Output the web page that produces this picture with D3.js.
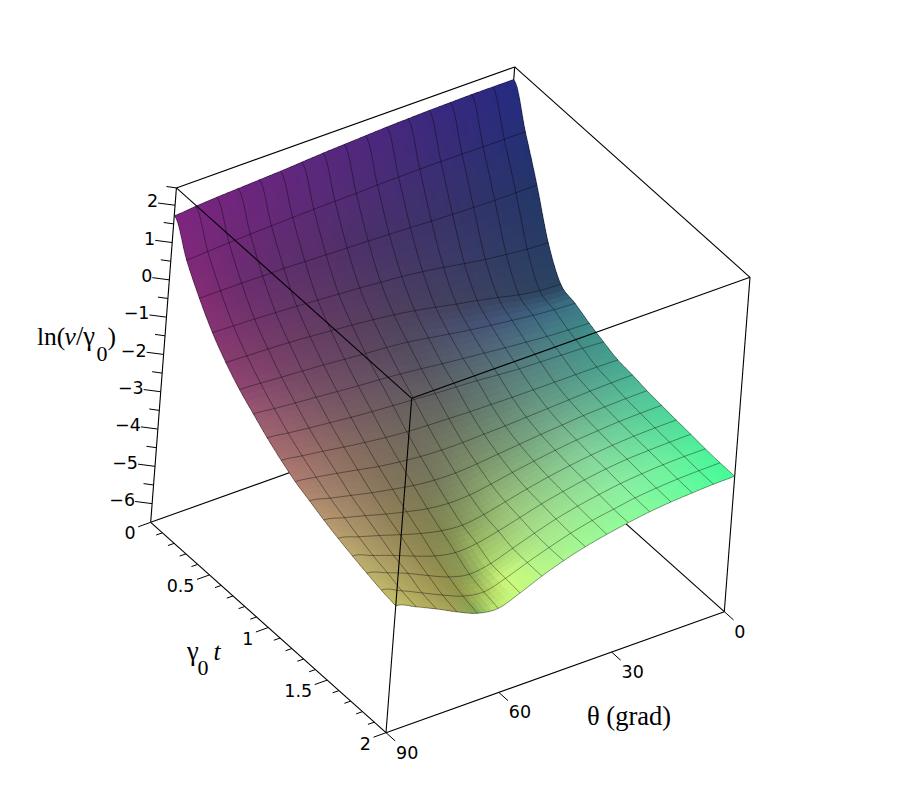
<!DOCTYPE html>
<html><head><meta charset="utf-8">
<style>html,body{margin:0;background:#fff}svg{display:block}</style>
<script src="https://cdn.jsdelivr.net/npm/d3@7/dist/d3.min.js"></script>
</head><body><svg id="c" width="900" height="800"></svg>
<script>
// ---- data ----
const tValues = [0,0.125,0.25,0.375,0.5,0.625,0.75,0.875,1,1.125,1.25,1.375,1.5,1.625,1.75,1.875,2];
const thetaValues = [90,84.375,78.75,73.125,67.5,61.875,56.25,50.625,45,39.375,33.75,28.125,22.5,16.875,11.25,5.625,0];
// ln(v/gamma0): one row per t, columns follow thetaValues
const lnRows = [
[1.72,1.77,1.81,1.84,1.87,1.90,1.94,1.98,2.01,2.04,2.07,2.09,2.11,2.12,2.13,2.13,2.13],
[0.88,0.91,0.94,0.97,0.99,1.01,1.03,1.04,1.05,1.07,1.08,1.09,1.09,1.09,1.08,1.08,1.08],
[0.21,0.21,0.21,0.20,0.20,0.18,0.16,0.14,0.12,0.10,0.08,0.05,0.03,0.01,0.00,0.00,0.00],
[-0.36,-0.38,-0.40,-0.43,-0.46,-0.50,-0.54,-0.58,-0.63,-0.68,-0.75,-0.84,-0.94,-1.03,-1.10,-1.16,-1.19],
[-0.81,-0.83,-0.85,-0.88,-0.92,-0.97,-1.02,-1.08,-1.15,-1.24,-1.35,-1.47,-1.58,-1.70,-1.83,-1.92,-1.95],
[-1.18,-1.21,-1.25,-1.29,-1.33,-1.38,-1.43,-1.47,-1.53,-1.62,-1.72,-1.81,-1.89,-1.96,-2.03,-2.08,-2.11],
[-1.48,-1.54,-1.59,-1.64,-1.69,-1.74,-1.78,-1.83,-1.89,-1.96,-2.02,-2.08,-2.14,-2.19,-2.24,-2.27,-2.29],
[-1.77,-1.84,-1.91,-1.97,-2.03,-2.08,-2.12,-2.16,-2.20,-2.23,-2.26,-2.31,-2.35,-2.37,-2.39,-2.41,-2.44],
[-2.02,-2.10,-2.18,-2.27,-2.35,-2.42,-2.47,-2.50,-2.52,-2.54,-2.55,-2.56,-2.56,-2.56,-2.56,-2.56,-2.57],
[-2.24,-2.32,-2.42,-2.53,-2.64,-2.72,-2.78,-2.81,-2.81,-2.79,-2.77,-2.74,-2.71,-2.68,-2.65,-2.63,-2.62],
[-2.40,-2.53,-2.66,-2.79,-2.90,-3.00,-3.06,-3.07,-3.03,-2.97,-2.91,-2.85,-2.80,-2.75,-2.72,-2.70,-2.69],
[-2.56,-2.70,-2.85,-3.01,-3.15,-3.27,-3.33,-3.31,-3.22,-3.11,-3.01,-2.92,-2.85,-2.80,-2.76,-2.74,-2.73],
[-2.70,-2.86,-3.03,-3.21,-3.38,-3.51,-3.56,-3.48,-3.34,-3.20,-3.08,-2.98,-2.90,-2.84,-2.80,-2.78,-2.77],
[-2.82,-3.01,-3.21,-3.43,-3.63,-3.74,-3.70,-3.57,-3.41,-3.25,-3.12,-3.01,-2.92,-2.86,-2.83,-2.81,-2.80],
[-2.93,-3.12,-3.34,-3.60,-3.84,-3.97,-3.88,-3.68,-3.48,-3.30,-3.16,-3.05,-2.96,-2.90,-2.86,-2.84,-2.84],
[-3.03,-3.25,-3.51,-3.77,-4.00,-4.09,-3.93,-3.71,-3.51,-3.33,-3.19,-3.09,-2.99,-2.93,-2.89,-2.87,-2.86],
[-3.10,-3.33,-3.59,-3.87,-4.11,-4.18,-3.97,-3.72,-3.51,-3.34,-3.21,-3.10,-3.01,-2.95,-2.91,-2.88,-2.87]
];
const zTicks = [2,1,0,-1,-2,-3,-4,-5,-6];
const zMinorTicks = [1.5,0.5,-0.5,-1.5,-2.5,-3.5,-4.5,-5.5];
const tTicks = [0,0.5,1,1.5,2];
const tMinorTicks = [0.1,0.2,0.3,0.4,0.6,0.7,0.8,0.9,1.1,1.2,1.3,1.4,1.6,1.7,1.8,1.9];
const thetaTicks = [0,30,60,90];
// surface colour table: rows / columns are indices of tValues / thetaValues
const shadeRowIdx = [0,2,4,5,6,8,10,12,14,15,16];
const shadeColIdx = [0,2,3,4,5,6,8,12,14,16];
const shadeRows = [
["#7d2480","#74247f","#6f2480","#6a2580","#652580","#5f2680","#552680","#3d2780","#312882","#252a85"],
["#842c74","#6c2c70","#652d6e","#5f2e6c","#5a2f6b","#552f6a","#4a316a","#37336a","#2d346a","#233568"],
["#8a3c70","#763c68","#6f3d66","#683d64","#623e62","#5c3e60","#4f405e","#3c4260","#334360","#2a4460"],
["#904670","#7c4668","#744666","#6c4664","#664662","#604660","#524a60","#46567a","#3e6482","#3c7488"],
["#9a5870","#83546a","#7a5366","#725264","#6b5262","#655262","#585462","#4f6c7c","#487c84","#3c8a88"],
["#a8706f","#936c66","#8a6a62","#806860","#78685e","#70685e","#686e62","#5f8e80","#54988a","#45a38f"],
["#b38a70","#9a8066","#8e7a5e","#84765a","#7c7658","#76795c","#7d9169","#74b08c","#62ba94","#50c39a"],
["#b9a26e","#a08e62","#948656","#8a8452","#828650","#86985a","#96be78","#84d49c","#6ad89c","#4fdb9a"],
["#bdb06c","#a89c5e","#9c9454","#90904e","#8ca055","#aed76c","#a8e088","#8aeca0","#70f09e","#4ff09a"],
["#c0b86a","#aca25c","#a09a54","#92984c","#a8c45c","#cdfa7d","#aaee8c","#88f4a0","#6cf69e","#4af69a"],
["#c2c068","#b0aa5c","#a4a256","#82aa55","#c0f073","#c8fa7c","#acf890","#84fc9c","#64fc9c","#44fc96"]
];

// ---- oblique box projection ----
const fT = d3.scaleLinear().domain([0,2]).range([0,1]);
const fTh = d3.scaleLinear().domain([90,0]).range([0,1]);
const fZ = d3.scaleLinear().domain([-6.5,2.465]).range([0,1]);
const ORIGIN=[150.7,522.3], VT=[235.3,210.4], VTH=[338.3,-121], VZ=[25.7,-334.4];
function P(t,th,z){
  const a=fT(t),b=fTh(th),c=fZ(z);
  return [ORIGIN[0]+a*VT[0]+b*VTH[0]+c*VZ[0], ORIGIN[1]+a*VT[1]+b*VTH[1]+c*VZ[1]];
}
const svg=d3.select("#c");
const line=d3.line();
function seg(g,a,b,w,col){g.append("path").attr("d",line([a,b])).attr("fill","none").attr("stroke",col||"#000").attr("stroke-width",w);}
const Z0=-6.5,Z1=2.465;

// back / hidden edges go first
const back=svg.append("g");
seg(back,P(0,90,Z0),P(0,0,Z0),1.1);
seg(back,P(2,0,Z0),P(0,0,Z0),1.1);
seg(back,P(0,0,Z0),P(0,0,Z1),1.1);
seg(back,P(0,90,Z1),P(0,0,Z1),1.1);
seg(back,P(0,0,Z1),P(2,0,Z1),1.1);
seg(back,P(0,90,Z0),P(0,90,Z1),1.1);
seg(back,P(2,0,Z0),P(2,0,Z1),1.1);

// surface
const rowS=d3.scaleLinear().domain(shadeRowIdx).range(d3.range(shadeRowIdx.length));
const colS=d3.scaleLinear().domain(shadeColIdx).range(d3.range(shadeColIdx.length));
const shadeRgb=shadeRows.map(r=>r.map(c=>d3.rgb(c)));
function shade(i,j){
  const r=rowS(i),c=colS(j);
  const r0=Math.min(Math.floor(r),shadeRgb.length-2),c0=Math.min(Math.floor(c),shadeRgb[0].length-2);
  const u=r-r0,v=c-c0;
  const A=shadeRgb[r0][c0],B=shadeRgb[r0][c0+1],C=shadeRgb[r0+1][c0],D=shadeRgb[r0+1][c0+1];
  const f=k=>(A[k]*(1-u)*(1-v)+B[k]*(1-u)*v+C[k]*u*(1-v)+D[k]*u*v);
  return d3.rgb(f("r"),f("g"),f("b")).formatHex();
}
const NI=tValues.length,NJ=thetaValues.length;
const cr=u=>[-.5*u+u*u-.5*u*u*u,1-2.5*u*u+1.5*u*u*u,.5*u+2*u*u-1.5*u*u*u,-.5*u*u+.5*u*u*u];
const iT=d3.scaleLinear().domain([0,NI-1]).range([tValues[0],tValues[NI-1]]);
const iTh=d3.scaleLinear().domain([0,NJ-1]).range([thetaValues[0],thetaValues[NJ-1]]);
function zAt(a,b){ // grid value with linear continuation past the border
  const ca=Math.max(0,Math.min(NI-1,a)),cb=Math.max(0,Math.min(NJ-1,b));
  const da=a-ca,db=b-cb;
  let v=lnRows[ca][cb];
  if(da)v+=da*(lnRows[ca][cb]-lnRows[ca-Math.sign(da)][cb]);
  if(db)v+=db*(lnRows[ca][cb]-lnRows[ca][cb-Math.sign(db)]);
  return v;
}
function surfAt(i,j){
  const i0=Math.min(Math.floor(i),NI-2),j0=Math.min(Math.floor(j),NJ-2);
  const wi=cr(i-i0),wj=cr(j-j0);
  let z=0;
  for(let a=0;a<4;a++)for(let b=0;b<4;b++)z+=wi[a]*wj[b]*zAt(i0+a-1,j0+b-1);
  return P(iT(i),iTh(j),z);
}
const SUB=4,pieces=[];
for(let i=0;i<NI-1;i++)for(let j=0;j<NJ-1;j++)
 for(let a=0;a<SUB;a++)for(let b=0;b<SUB;b++){
  const i0=i+a/SUB,i1=i+(a+1)/SUB,j0=j+b/SUB,j1=j+(b+1)/SUB;
  pieces.push({pts:[surfAt(i0,j0),surfAt(i0,j1),surfAt(i1,j1),surfAt(i1,j0)],col:shade((i0+i1)/2,(j0+j1)/2)});
 }
const closed=d3.line().curve(d3.curveLinearClosed);
const fine=n=>d3.range(0,(n-1)*8+1).map(k=>k/8);
const outline=[...fine(NJ).map(j=>surfAt(0,j)),...fine(NI).map(i=>surfAt(i,NJ-1)),
  ...fine(NJ).reverse().map(j=>surfAt(NI-1,j)),...fine(NI).reverse().map(i=>surfAt(i,0))];
svg.append("defs").append("clipPath").attr("id","sf").append("path").attr("d",closed(outline));
svg.append("g").attr("clip-path","url(#sf)").attr("shape-rendering","crispEdges")
  .selectAll("path").data(pieces).join("path")
  .attr("d",d=>closed(d.pts)).attr("fill",d=>d.col).attr("stroke",d=>d.col).attr("stroke-width",1.4);

// mesh
const mesh=svg.append("g").attr("fill","none").attr("stroke","#000").attr("stroke-opacity",0.52).attr("stroke-width",0.75);
tValues.forEach((t,i)=>mesh.append("path").attr("d",line(fine(NJ).map(j=>surfAt(i,j)))));
thetaValues.forEach((th,j)=>mesh.append("path").attr("d",line(fine(NI).map(i=>surfAt(i,j)))));

// front edges over the surface
const front=svg.append("g");
seg(front,P(0,90,Z1),P(2,90,Z1),1.1);
seg(front,P(2,90,Z1),P(2,0,Z1),1.1);
seg(front,P(2,90,Z1),P(2,90,Z0),1.1);
seg(front,P(0,90,Z0),P(2,90,Z0),1.1);
seg(front,P(2,90,Z0),P(2,0,Z0),1.1);

// axes
const font="'DejaVu Sans',sans-serif";
const ax=svg.append("g");
function lab(x,y,s,anchor){ax.append("text").attr("x",x).attr("y",y).attr("text-anchor",anchor).attr("dominant-baseline","central").attr("font-family",font).attr("font-size",17.5).attr("fill","#000").text(s);}
const fmt=v=>(v<0?"\u2212"+(-v):""+v);
zTicks.forEach(z=>{const p=P(0,90,z);seg(ax,p,[p[0]-17,p[1]-2.2],1);lab(p[0]-17,p[1]-3.8,fmt(z),"end");});
zMinorTicks.forEach(z=>{const p=P(0,90,z);seg(ax,p,[p[0]-10,p[1]-1.4],1);});
seg(ax,P(0,90,Z1),[P(0,90,Z1)[0]-10,P(0,90,Z1)[1]-1.4],1);
tTicks.forEach(t=>{const p=P(t,90,Z0);seg(ax,p,[p[0]-12.5,p[1]+4.5],1);lab(p[0]-15,p[1]+11,""+t,"end");});
tMinorTicks.forEach(t=>{const p=P(t,90,Z0);seg(ax,p,[p[0]-6.3,p[1]+2.2],1);});
thetaTicks.forEach(th=>{const p=P(2,th,Z0);seg(ax,p,[p[0]+9.2,p[1]+8.2],1);lab(p[0]+10,p[1]+20,""+th,"start");});

// titles
const serif="'Liberation Serif','Times New Roman',serif";
function title(x,y,s,size,italic){svg.append("text").attr("x",x).attr("y",y).attr("font-family",serif).attr("font-size",size).attr("font-style",italic?"italic":"normal").attr("fill","#000").text(s);}
title(37,345,"ln(",25.5);
title(64.5,345,"v",25.5,true);
title(76,345,"/\u03B3",26.5);
title(96.5,361,"0",22);
title(107.5,345,")",25.5);
title(187,660,"\u03B3",26.5);
title(197.5,675,"0",22);
title(213.5,660,"t",25.5,true);
title(587,725,"\u03B8 (grad)",26.5);
</script></body></html>
